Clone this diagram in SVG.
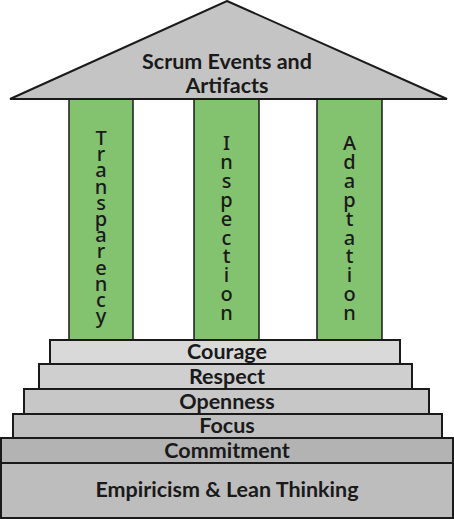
<svg xmlns="http://www.w3.org/2000/svg" width="454" height="519" viewBox="0 0 454 519">
<style>
.step{stroke:#1a1a1a;stroke-width:2}
.col{fill:#83c26f;stroke:#1a1a1a;stroke-width:1.5}
.lbl{font-family:Lato,"Noto Sans",sans-serif;font-weight:bold;font-size:21.5px;fill:#1a1a1a;text-anchor:middle}
.vt{font-family:"Noto Sans","DejaVu Sans",sans-serif;font-weight:500;font-size:20px;fill:#1a1a1a;text-anchor:middle}
</style>
<rect width="454" height="519" fill="#ffffff"/>
<g id="col-transparency">
<rect class="col" x="69" y="99" width="64" height="242"/>
<text class="vt"><tspan x="101" y="145">T</tspan><tspan x="101" dy="16.2">r</tspan><tspan x="101" dy="16.2">a</tspan><tspan x="101" dy="16.2">n</tspan><tspan x="101" dy="16.2">s</tspan><tspan x="101" dy="16.2">p</tspan><tspan x="101" dy="16.2">a</tspan><tspan x="101" dy="16.2">r</tspan><tspan x="101" dy="16.2">e</tspan><tspan x="101" dy="16.2">n</tspan><tspan x="101" dy="16.2">c</tspan><tspan x="101" dy="16.2">y</tspan></text>
</g>
<g id="col-inspection">
<rect class="col" x="194" y="99" width="65" height="242"/>
<text class="vt"><tspan x="226.5" y="150">I</tspan><tspan x="226.5" dy="18.9">n</tspan><tspan x="226.5" dy="18.9">s</tspan><tspan x="226.5" dy="18.9">p</tspan><tspan x="226.5" dy="18.9">e</tspan><tspan x="226.5" dy="18.9">c</tspan><tspan x="226.5" dy="18.9">t</tspan><tspan x="226.5" dy="18.9">i</tspan><tspan x="226.5" dy="18.9">o</tspan><tspan x="226.5" dy="18.9">n</tspan></text>
</g>
<g id="col-adaptation">
<rect class="col" x="317" y="99" width="65" height="242"/>
<text class="vt"><tspan x="349.5" y="150">A</tspan><tspan x="349.5" dy="18.9">d</tspan><tspan x="349.5" dy="18.9">a</tspan><tspan x="349.5" dy="18.9">p</tspan><tspan x="349.5" dy="18.9">t</tspan><tspan x="349.5" dy="18.9">a</tspan><tspan x="349.5" dy="18.9">t</tspan><tspan x="349.5" dy="18.9">i</tspan><tspan x="349.5" dy="18.9">o</tspan><tspan x="349.5" dy="18.9">n</tspan></text>
</g>
<g id="roof">
<polygon points="227,1 447,99 10,99" fill="#c4c4c4" stroke="#1a1a1a" stroke-width="2" stroke-linejoin="miter"/>
<text class="lbl" x="227" y="69">Scrum Events and</text>
<text class="lbl" x="227" y="93">Artifacts</text>
</g>
<g id="step-empiricism">
<rect class="step" x="1" y="463" width="452" height="55" fill="#bdbdbd"/>
<text class="lbl" x="227" y="497">Empiricism &amp; Lean Thinking</text>
</g>
<g id="step-commitment">
<rect class="step" x="1" y="438" width="452" height="25" fill="#b3b3b3"/>
<text class="lbl" x="227" y="458">Commitment</text>
</g>
<g id="step-focus">
<rect class="step" x="13" y="414" width="429" height="24" fill="#bfbfbf"/>
<text class="lbl" x="227" y="433">Focus</text>
</g>
<g id="step-openness">
<rect class="step" x="24" y="389" width="405" height="25" fill="#c7c7c7"/>
<text class="lbl" x="227" y="409">Openness</text>
</g>
<g id="step-respect">
<rect class="step" x="39" y="364" width="373" height="25" fill="#cfcfcf"/>
<text class="lbl" x="227" y="384">Respect</text>
</g>
<g id="step-courage">
<rect class="step" x="50" y="340" width="350" height="24" fill="#d9d9d9"/>
<text class="lbl" x="227" y="359">Courage</text>
</g>
</svg>
